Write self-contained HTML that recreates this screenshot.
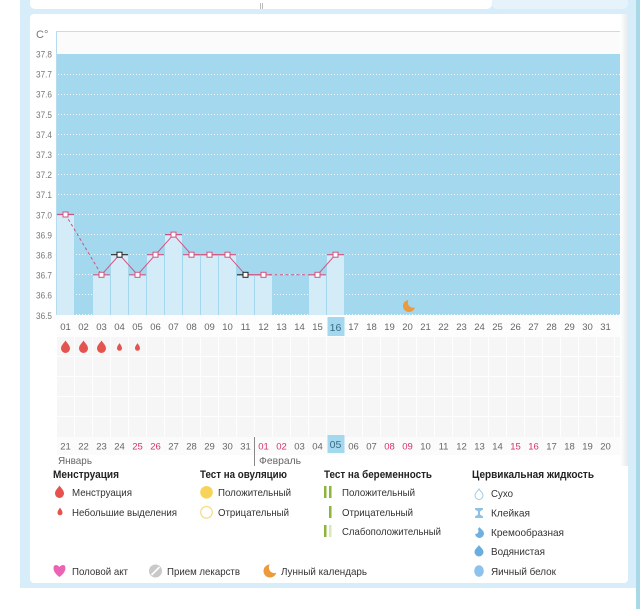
<!DOCTYPE html>
<html><head><meta charset="utf-8">
<style>
html,body{margin:0;padding:0;background:#fff;}
svg{display:block;}
text{font-family:"Liberation Sans",sans-serif;}
</style></head>
<body>
<svg width="640" height="609" viewBox="0 0 640 609" xmlns="http://www.w3.org/2000/svg">
<defs>
<linearGradient id="shd" x1="0" x2="1" y1="0" y2="0">
<stop offset="0" stop-color="#ffffff"/><stop offset="1" stop-color="#e6e9ec"/>
</linearGradient>
<mask id="moonmask"><rect x="395" y="292" width="30" height="30" fill="#fff"/><circle cx="413" cy="302.5" r="5.2" fill="#000"/></mask>
<mask id="moonmask2"><rect x="255" y="555" width="30" height="30" fill="#fff"/><circle cx="274.5" cy="567.5" r="5.6" fill="#000"/></mask>
</defs>

<!-- frame -->
<rect x="20" y="0" width="617" height="588" fill="#d7edf9"/>
<rect x="636" y="0" width="4" height="609" fill="#a9d9e6"/>
<rect x="30" y="-6" width="462" height="15" rx="5" fill="#ffffff"/>
<rect x="492" y="-6" width="136" height="15" rx="5" fill="#e6f3fb"/>
<line x1="260.5" y1="3" x2="260.5" y2="9" stroke="#aaa" stroke-width="0.8"/>
<line x1="262.5" y1="3" x2="262.5" y2="9" stroke="#aaa" stroke-width="0.8"/>
<rect x="30" y="14" width="598" height="569" rx="4" fill="#ffffff"/>

<!-- plot header -->
<rect x="56" y="31" width="564" height="23" fill="#fbfbfc"/>
<line x1="56" y1="31.5" x2="628" y2="31.5" stroke="#bfe0ee" stroke-width="1"/>
<line x1="56.5" y1="31" x2="56.5" y2="315" stroke="#b5dcee" stroke-width="1"/>
<rect x="57" y="54" width="563" height="261" fill="#a4d8ef"/>

<!-- gridlines -->
<g stroke="#ffffff" stroke-width="1" stroke-dasharray="1 2" opacity="0.85">
<line x1="58" x2="620" y1="74.5" y2="74.5"/>
<line x1="58" x2="620" y1="94.5" y2="94.5"/>
<line x1="58" x2="620" y1="114.5" y2="114.5"/>
<line x1="58" x2="620" y1="134.5" y2="134.5"/>
<line x1="58" x2="620" y1="154.5" y2="154.5"/>
<line x1="58" x2="620" y1="174.5" y2="174.5"/>
<line x1="58" x2="620" y1="194.5" y2="194.5"/>
<line x1="58" x2="620" y1="214.5" y2="214.5"/>
<line x1="58" x2="620" y1="234.5" y2="234.5"/>
<line x1="58" x2="620" y1="254.5" y2="254.5"/>
<line x1="58" x2="620" y1="274.5" y2="274.5"/>
<line x1="58" x2="620" y1="294.5" y2="294.5"/>
<line x1="58" x2="620" y1="314.5" y2="314.5"/>
</g>

<!-- y labels -->
<g font-size="9.5" fill="#777" text-anchor="end">
<text x="52" y="57.5" textLength="16" lengthAdjust="spacingAndGlyphs">37.8</text>
<text x="52" y="77.6" textLength="16" lengthAdjust="spacingAndGlyphs">37.7</text>
<text x="52" y="97.7" textLength="16" lengthAdjust="spacingAndGlyphs">37.6</text>
<text x="52" y="117.8" textLength="16" lengthAdjust="spacingAndGlyphs">37.5</text>
<text x="52" y="137.9" textLength="16" lengthAdjust="spacingAndGlyphs">37.4</text>
<text x="52" y="158" textLength="16" lengthAdjust="spacingAndGlyphs">37.3</text>
<text x="52" y="178.1" textLength="16" lengthAdjust="spacingAndGlyphs">37.2</text>
<text x="52" y="198.2" textLength="16" lengthAdjust="spacingAndGlyphs">37.1</text>
<text x="52" y="218.3" textLength="16" lengthAdjust="spacingAndGlyphs">37.0</text>
<text x="52" y="238.4" textLength="16" lengthAdjust="spacingAndGlyphs">36.9</text>
<text x="52" y="258.5" textLength="16" lengthAdjust="spacingAndGlyphs">36.8</text>
<text x="52" y="278.6" textLength="16" lengthAdjust="spacingAndGlyphs">36.7</text>
<text x="52" y="298.7" textLength="16" lengthAdjust="spacingAndGlyphs">36.6</text>
<text x="52" y="318.8" textLength="16" lengthAdjust="spacingAndGlyphs">36.5</text>
</g>
<text x="36" y="38" font-size="11" fill="#777">C°</text>

<!-- bars -->
<g fill="#d3ecf8">
<rect x="57" y="214.5" width="17" height="100.5"/>
<rect x="93" y="274.8" width="17" height="40.2"/>
<rect x="111" y="254.7" width="17" height="60.3"/>
<rect x="129" y="274.8" width="17" height="40.2"/>
<rect x="147" y="254.7" width="17" height="60.3"/>
<rect x="165" y="234.6" width="17" height="80.4"/>
<rect x="183" y="254.7" width="17" height="60.3"/>
<rect x="201" y="254.7" width="17" height="60.3"/>
<rect x="219" y="254.7" width="17" height="60.3"/>
<rect x="237" y="274.8" width="17" height="40.2"/>
<rect x="255" y="274.8" width="17" height="40.2"/>
<rect x="309" y="274.8" width="17" height="40.2"/>
<rect x="327" y="254.7" width="17" height="60.3"/>
</g>
<!-- bar tops -->
<g stroke="#d2527f" stroke-width="1.2">
<line x1="57" x2="74" y1="214.5" y2="214.5"/>
<line x1="93" x2="110" y1="274.8" y2="274.8"/>
<line x1="129" x2="146" y1="274.8" y2="274.8"/>
<line x1="147" x2="164" y1="254.7" y2="254.7"/>
<line x1="165" x2="182" y1="234.6" y2="234.6"/>
<line x1="183" x2="200" y1="254.7" y2="254.7"/>
<line x1="201" x2="218" y1="254.7" y2="254.7"/>
<line x1="219" x2="236" y1="254.7" y2="254.7"/>
<line x1="245" x2="254" y1="274.8" y2="274.8"/>
<line x1="255" x2="272" y1="274.8" y2="274.8"/>
<line x1="309" x2="326" y1="274.8" y2="274.8"/>
<line x1="327" x2="344" y1="254.7" y2="254.7"/>
</g>
<g stroke="#2a2a2a" stroke-width="1.2">
<line x1="111" x2="128" y1="254.7" y2="254.7"/>
<line x1="237" x2="247" y1="274.8" y2="274.8"/>
</g>

<!-- lines -->
<g fill="none" stroke="#d2527f" stroke-width="1">
<polyline points="101.5,274.8 119.5,254.7 137.5,274.8 155.5,254.7 173.5,234.6 191.5,254.7 209.5,254.7 227.5,254.7 245.5,274.8 263.5,274.8"/>
<polyline points="317.5,274.8 335.5,254.7"/>
<line x1="65.5" y1="214.5" x2="101.5" y2="274.8" stroke-dasharray="3 2.5"/>
<line x1="263.5" y1="274.8" x2="317.5" y2="274.8" stroke-dasharray="3 2.5"/>
</g>
<!-- markers -->
<g fill="#fff" stroke="#d2527f" stroke-width="1">
<rect x="63" y="212" width="5" height="5"/>
<rect x="99" y="272.3" width="5" height="5"/>
<rect x="135" y="272.3" width="5" height="5"/>
<rect x="153" y="252.2" width="5" height="5"/>
<rect x="171" y="232.1" width="5" height="5"/>
<rect x="189" y="252.2" width="5" height="5"/>
<rect x="207" y="252.2" width="5" height="5"/>
<rect x="225" y="252.2" width="5" height="5"/>
<rect x="261" y="272.3" width="5" height="5"/>
<rect x="315" y="272.3" width="5" height="5"/>
<rect x="333" y="252.2" width="5" height="5"/>
</g>
<g fill="#fff" stroke="#222" stroke-width="1">
<rect x="117" y="252.2" width="5" height="5"/>
<rect x="243" y="272.3" width="5" height="5"/>
</g>

<!-- moon in chart -->
<circle cx="409" cy="306" r="6" fill="#e99b3e" mask="url(#moonmask)"/>

<!-- top date row -->
<rect x="57" y="315" width="563" height="22" fill="#fdfdfd"/>
<rect x="327.5" y="317" width="17" height="19" fill="#a4d8ef"/>
<g font-size="9.5" fill="#666" text-anchor="middle">
<text x="65.5" y="330">01</text><text x="83.5" y="330">02</text><text x="101.5" y="330">03</text><text x="119.5" y="330">04</text><text x="137.5" y="330">05</text><text x="155.5" y="330">06</text><text x="173.5" y="330">07</text><text x="191.5" y="330">08</text><text x="209.5" y="330">09</text><text x="227.5" y="330">10</text><text x="245.5" y="330">11</text><text x="263.5" y="330">12</text><text x="281.5" y="330">13</text><text x="299.5" y="330">14</text><text x="317.5" y="330">15</text><text x="335.5" y="331" fill="#3d6a85" font-size="10.5">16</text><text x="353.5" y="330">17</text><text x="371.5" y="330">18</text><text x="389.5" y="330">19</text><text x="407.5" y="330">20</text><text x="425.5" y="330">21</text><text x="443.5" y="330">22</text><text x="461.5" y="330">23</text><text x="479.5" y="330">24</text><text x="497.5" y="330">25</text><text x="515.5" y="330">26</text><text x="533.5" y="330">27</text><text x="551.5" y="330">28</text><text x="569.5" y="330">29</text><text x="587.5" y="330">30</text><text x="605.5" y="330">31</text>
</g>

<!-- gray grid -->
<rect x="57" y="337" width="563" height="100" fill="#f6f6f6"/>
<g stroke="#ffffff" stroke-width="1" opacity="0.9">
<line x1="57" x2="620" y1="356.5" y2="356.5"/>
<line x1="57" x2="620" y1="376.5" y2="376.5"/>
<line x1="57" x2="620" y1="396.5" y2="396.5"/>
<line x1="57" x2="620" y1="416.5" y2="416.5"/>
<line x1="74.5" x2="74.5" y1="337" y2="437"/><line x1="92.5" x2="92.5" y1="337" y2="437"/><line x1="110.5" x2="110.5" y1="337" y2="437"/><line x1="128.5" x2="128.5" y1="337" y2="437"/><line x1="146.5" x2="146.5" y1="337" y2="437"/><line x1="164.5" x2="164.5" y1="337" y2="437"/><line x1="182.5" x2="182.5" y1="337" y2="437"/><line x1="200.5" x2="200.5" y1="337" y2="437"/><line x1="218.5" x2="218.5" y1="337" y2="437"/><line x1="236.5" x2="236.5" y1="337" y2="437"/><line x1="254.5" x2="254.5" y1="337" y2="437"/><line x1="272.5" x2="272.5" y1="337" y2="437"/><line x1="290.5" x2="290.5" y1="337" y2="437"/><line x1="308.5" x2="308.5" y1="337" y2="437"/><line x1="326.5" x2="326.5" y1="337" y2="437"/><line x1="344.5" x2="344.5" y1="337" y2="437"/><line x1="362.5" x2="362.5" y1="337" y2="437"/><line x1="380.5" x2="380.5" y1="337" y2="437"/><line x1="398.5" x2="398.5" y1="337" y2="437"/><line x1="416.5" x2="416.5" y1="337" y2="437"/><line x1="434.5" x2="434.5" y1="337" y2="437"/><line x1="452.5" x2="452.5" y1="337" y2="437"/><line x1="470.5" x2="470.5" y1="337" y2="437"/><line x1="488.5" x2="488.5" y1="337" y2="437"/><line x1="506.5" x2="506.5" y1="337" y2="437"/><line x1="524.5" x2="524.5" y1="337" y2="437"/><line x1="542.5" x2="542.5" y1="337" y2="437"/><line x1="560.5" x2="560.5" y1="337" y2="437"/><line x1="578.5" x2="578.5" y1="337" y2="437"/><line x1="596.5" x2="596.5" y1="337" y2="437"/><line x1="614.5" x2="614.5" y1="337" y2="437"/>
</g>

<!-- drops -->
<g fill="#e5534f">
<path d="M65.5,340.5 C66.5,342.5 70,345 70,348.5 A4.5,4.5 0 0 1 61,348.5 C61,345 64.5,342.5 65.5,340.5 Z"/>
<path d="M83.5,340.5 C84.5,342.5 88,345 88,348.5 A4.5,4.5 0 0 1 79,348.5 C79,345 82.5,342.5 83.5,340.5 Z"/>
<path d="M101.5,340.5 C102.5,342.5 106,345 106,348.5 A4.5,4.5 0 0 1 97,348.5 C97,345 100.5,342.5 101.5,340.5 Z"/>
<path d="M119.5,343 C120.2,344.5 122,346 122,348.3 A2.5,2.5 0 0 1 117,348.3 C117,346 118.8,344.5 119.5,343 Z"/>
<path d="M137.5,343 C138.2,344.5 140,346 140,348.3 A2.5,2.5 0 0 1 135,348.3 C135,346 136.8,344.5 137.5,343 Z"/>
</g>

<!-- bottom date row -->
<rect x="57" y="437" width="563" height="18" fill="#fbfbfb"/>
<rect x="327.5" y="435" width="17" height="18" fill="#a4d8ef"/>
<line x1="254.5" y1="437" x2="254.5" y2="466" stroke="#888" stroke-width="1"/>
<g font-size="9.5" fill="#666" text-anchor="middle">
<text x="65.5" y="449.5">21</text><text x="83.5" y="449.5">22</text><text x="101.5" y="449.5">23</text><text x="119.5" y="449.5">24</text><text x="137.5" y="449.5" fill="#d6336c">25</text><text x="155.5" y="449.5" fill="#d6336c">26</text><text x="173.5" y="449.5">27</text><text x="191.5" y="449.5">28</text><text x="209.5" y="449.5">29</text><text x="227.5" y="449.5">30</text><text x="245.5" y="449.5">31</text><text x="263.5" y="449.5" fill="#d6336c">01</text><text x="281.5" y="449.5" fill="#d6336c">02</text><text x="299.5" y="449.5">03</text><text x="317.5" y="449.5">04</text><text x="335.5" y="448" fill="#3d6a85" font-size="10.5">05</text><text x="353.5" y="449.5">06</text><text x="371.5" y="449.5">07</text><text x="389.5" y="449.5" fill="#d6336c">08</text><text x="407.5" y="449.5" fill="#d6336c">09</text><text x="425.5" y="449.5">10</text><text x="443.5" y="449.5">11</text><text x="461.5" y="449.5">12</text><text x="479.5" y="449.5">13</text><text x="497.5" y="449.5">14</text><text x="515.5" y="449.5" fill="#d6336c">15</text><text x="533.5" y="449.5" fill="#d6336c">16</text><text x="551.5" y="449.5">17</text><text x="569.5" y="449.5">18</text><text x="587.5" y="449.5">19</text><text x="605.5" y="449.5">20</text>
</g>
<g font-size="10.5" fill="#666">
<text x="58" y="464" textLength="34" lengthAdjust="spacingAndGlyphs">Январь</text>
<text x="259" y="464" textLength="42" lengthAdjust="spacingAndGlyphs">Февраль</text>
</g>

<!-- right scroll shadow -->
<rect x="620" y="14" width="8" height="452" fill="url(#shd)"/>

<!-- legend headings -->
<g font-size="11" font-weight="bold" fill="#222">
<text x="53" y="478" textLength="66" lengthAdjust="spacingAndGlyphs">Менструация</text>
<text x="200" y="478" textLength="87" lengthAdjust="spacingAndGlyphs">Тест на овуляцию</text>
<text x="324" y="478" textLength="108" lengthAdjust="spacingAndGlyphs">Тест на беременность</text>
<text x="472" y="478" textLength="122" lengthAdjust="spacingAndGlyphs">Цервикальная жидкость</text>
</g>
<!-- legend items -->
<g font-size="10.5" fill="#333">
<text x="72" y="496" textLength="60" lengthAdjust="spacingAndGlyphs">Менструация</text>
<text x="72" y="516" textLength="105" lengthAdjust="spacingAndGlyphs">Небольшие выделения</text>
<text x="218" y="496" textLength="73" lengthAdjust="spacingAndGlyphs">Положительный</text>
<text x="218" y="516" textLength="71" lengthAdjust="spacingAndGlyphs">Отрицательный</text>
<text x="342" y="496" textLength="73" lengthAdjust="spacingAndGlyphs">Положительный</text>
<text x="342" y="516" textLength="71" lengthAdjust="spacingAndGlyphs">Отрицательный</text>
<text x="342" y="535" textLength="99" lengthAdjust="spacingAndGlyphs">Слабоположительный</text>
<text x="491" y="497" textLength="22" lengthAdjust="spacingAndGlyphs">Сухо</text>
<text x="491" y="516.5" textLength="39" lengthAdjust="spacingAndGlyphs">Клейкая</text>
<text x="491" y="536" textLength="73" lengthAdjust="spacingAndGlyphs">Кремообразная</text>
<text x="491" y="555" textLength="54" lengthAdjust="spacingAndGlyphs">Водянистая</text>
<text x="491" y="575" textLength="65" lengthAdjust="spacingAndGlyphs">Яичный белок</text>
<text x="72" y="575" textLength="56" lengthAdjust="spacingAndGlyphs">Половой акт</text>
<text x="167" y="575" textLength="73" lengthAdjust="spacingAndGlyphs">Прием лекарств</text>
<text x="281" y="575" textLength="86" lengthAdjust="spacingAndGlyphs">Лунный календарь</text>
</g>

<!-- legend icons -->
<path d="M59.5,485.5 C60.5,487.5 64,490 64,493.5 A4.5,4.5 0 0 1 55,493.5 C55,490 58.5,487.5 59.5,485.5 Z" fill="#e5534f"/>
<path d="M60,507.5 C60.7,509 62.5,510.5 62.5,512.8 A2.5,2.5 0 0 1 57.5,512.8 C57.5,510.5 59.3,509 60,507.5 Z" fill="#e5534f"/>
<circle cx="206.5" cy="492.3" r="6.3" fill="#f8d35a"/>
<circle cx="206.5" cy="512.3" r="5.8" fill="#fff" stroke="#f6dc86" stroke-width="1.2"/>
<rect x="324" y="486" width="2.5" height="12" fill="#8db53c"/>
<rect x="329" y="486" width="2.5" height="12" fill="#8db53c"/>
<rect x="329" y="506" width="2.5" height="12" fill="#8db53c"/>
<rect x="324" y="525" width="2.5" height="12" fill="#8db53c"/>
<rect x="329" y="525" width="2.5" height="12" fill="#d9e8b8"/>
<path d="M479,489 C480,491 483,492.5 483,495.5 A4,4 0 0 1 475,495.5 C475,492.5 478,491 479,489 Z" fill="#fff" stroke="#9ecbe9" stroke-width="1"/>
<path d="M475,508 L483,508 L483,509.5 L480,511.5 L480,514.5 L483,516.5 L483,518 L475,518 L475,516.5 L478,514.5 L478,511.5 L475,509.5 Z" fill="#8ec1e6"/>
<path d="M479.5,527 C480.5,529 484,530.5 484,533.5 A4.5,4.5 0 0 1 475,533.5 C475,530.5 478.5,529 479.5,527 Z" fill="#6eb0e0"/>
<circle cx="475.5" cy="531" r="3" fill="#fff"/>
<path d="M479,545 C480,547 483.5,549 483.5,552 A4.5,4.5 0 0 1 474.5,552 C474.5,549 478,547 479,545 Z" fill="#6aaedf"/>
<ellipse cx="479" cy="571" rx="4.8" ry="5.8" fill="#8cc2ec"/>
<path d="M59.5,577 C52,572 52.5,565 56,565 C58,565 59.5,567 59.5,567 C59.5,567 61,565 63,565 C66.5,565 67,572 59.5,577 Z" fill="#ec63b4"/>
<circle cx="155.5" cy="571" r="6.5" fill="#c9c9c9"/>
<line x1="151.5" y1="575" x2="159.5" y2="567" stroke="#fff" stroke-width="1.6"/>
<circle cx="270" cy="571" r="6.5" fill="#eb9a3c" mask="url(#moonmask2)"/>
</svg>
</body></html>
